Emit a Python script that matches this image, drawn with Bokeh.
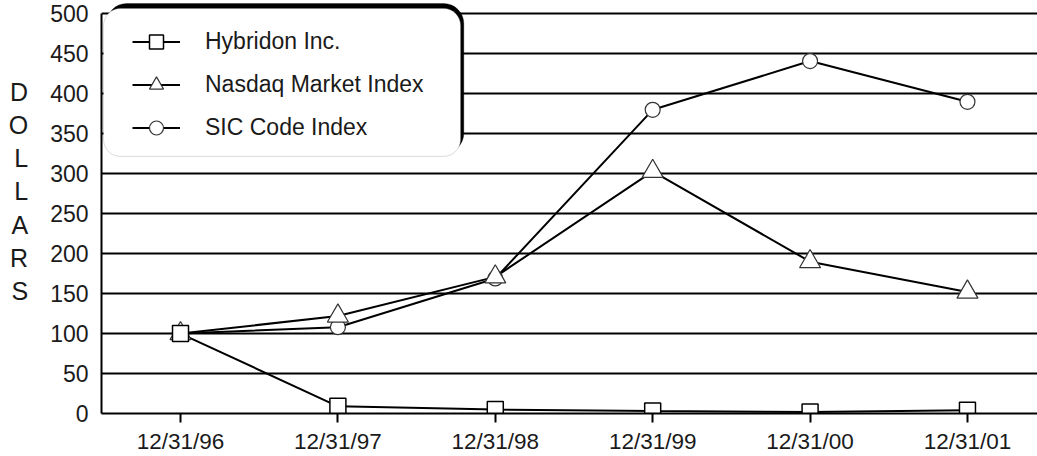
from bokeh.plotting import figure
from bokeh.models import Range1d, FixedTicker, Legend, LegendItem, BoxAnnotation
from bokeh.embed import file_html
from bokeh.resources import INLINE

# ---- data ----
dates = ["12/31/96", "12/31/97", "12/31/98", "12/31/99", "12/31/00", "12/31/01"]
hybridon = [100, 9, 5, 3, 2, 4]
nasdaq = [100, 122, 171, 303, 190, 152]
sic = [100, 108, 169, 380, 441, 390]
y_ticks = [0, 50, 100, 150, 200, 250, 300, 350, 400, 450, 500]
axis_title = "DOLLARS"

FONT = "Liberation Sans"
INK = "#1a1a1a"
xs = list(range(len(dates)))

p = figure(width=1037, height=456,
           x_range=Range1d(-0.502, 5.445), y_range=Range1d(0, 514.3),
           output_backend="svg", toolbar_location=None,
           min_border_left=101, min_border_right=0, min_border_top=2, min_border_bottom=40)
p.outline_line_color = None
p.background_fill_color = "white"

# grid
p.xgrid.grid_line_color = None
p.ygrid.ticker = FixedTicker(ticks=y_ticks)
p.ygrid.grid_line_color = "black"
p.ygrid.grid_line_width = 2

# x axis
p.xaxis.ticker = FixedTicker(ticks=xs)
p.xaxis.major_label_overrides = {i: d for i, d in zip(xs, dates)}
p.xaxis.axis_line_width = 2
p.xaxis.axis_line_color = "black"
p.xaxis.major_tick_out = 9
p.xaxis.major_tick_in = 0
p.xaxis.major_tick_line_width = 2
p.xaxis.minor_tick_line_color = None
p.xaxis.major_label_standoff = 6
p.xaxis.major_label_text_font = FONT
p.xaxis.major_label_text_font_size = "22.5px"
p.xaxis.major_label_text_color = INK

# y axis
p.yaxis.ticker = FixedTicker(ticks=y_ticks)
p.yaxis.bounds = (0, 500)
p.yaxis.axis_line_width = 2
p.yaxis.axis_line_color = "black"
p.yaxis.major_tick_out = 0
p.yaxis.major_tick_in = 0
p.yaxis.minor_tick_line_color = None
p.yaxis.major_label_standoff = 13
p.yaxis.major_label_text_font = FONT
p.yaxis.major_label_text_font_size = "23px"
p.yaxis.major_label_text_color = INK

# vertical stacked axis title
p.yaxis.axis_label = "\n".join(list(axis_title)) + "\n "
p.yaxis.axis_label_orientation = "horizontal"
p.yaxis.axis_label_standoff = 19
p.yaxis.axis_label_text_font = FONT
p.yaxis.axis_label_text_font_size = "25px"
p.yaxis.axis_label_text_font_style = "normal"
p.yaxis.axis_label_text_color = INK
p.yaxis.axis_label_text_line_height = 1.18
p.yaxis.axis_label_text_align = "center"

# series
l_sic = p.line(xs, sic, line_color="black", line_width=2)
l_nas = p.line(xs, nasdaq, line_color="black", line_width=2)
l_hyb = p.line(xs, hybridon, line_color="black", line_width=2)
s_sic = p.scatter(xs, sic, marker="circle", size=15, fill_color="white",
                  line_color="#333333", line_width=1.2)
s_nas = p.scatter(xs, nasdaq, marker="triangle", size=21, fill_color="white",
                  line_color="#333333", line_width=1.2)
s_hyb = p.scatter(xs, hybridon, marker="square", size=16, fill_color="white",
                  line_color="black", line_width=1.5)

# legend box with shadow
def rounded(box, r):
    try:
        box.border_radius = r
    except Exception:
        pass
    return box

shadow = rounded(BoxAnnotation(left=-0.470, right=1.800, top=513.0, bottom=325.5,
                               fill_color="black", fill_alpha=1,
                               line_color="black", line_width=1), 20)
panel = rounded(BoxAnnotation(left=-0.489, right=1.779, top=506.8, bottom=321.7,
                              fill_color="white", fill_alpha=1,
                              line_color="#888888", line_width=1), 17)
p.add_layout(shadow)
p.add_layout(panel)

legend = Legend(items=[
    LegendItem(label="Hybridon Inc.", renderers=[l_hyb, s_hyb]),
    LegendItem(label="Nasdaq Market Index", renderers=[l_nas, s_nas]),
    LegendItem(label="SIC Code Index", renderers=[l_sic, s_sic]),
], location=(31, 268.5))
legend.background_fill_alpha = 0
legend.border_line_alpha = 0
legend.padding = 0
legend.margin = 0
legend.spacing = 8
legend.glyph_width = 48
legend.glyph_height = 35
legend.label_height = 20
legend.label_standoff = 25
legend.label_text_font = FONT
legend.label_text_font_size = "23px"
legend.label_text_color = INK
legend.label_text_baseline = "middle"
p.add_layout(legend, "center")

open("out.html", "w").write(file_html(p, INLINE))
